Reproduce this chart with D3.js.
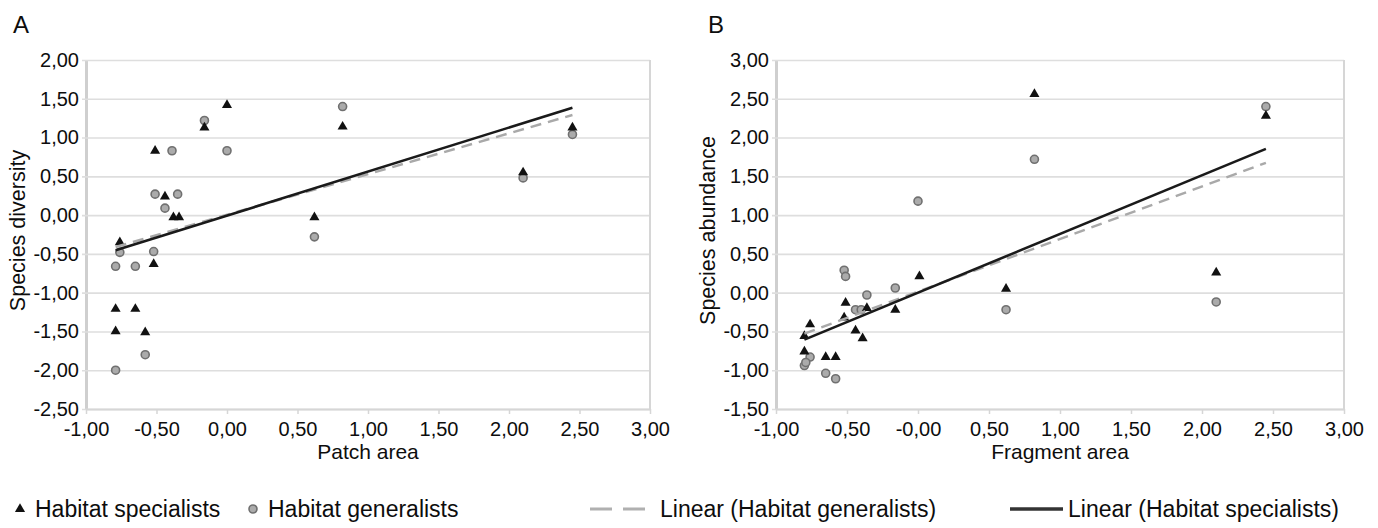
<!DOCTYPE html>
<html>
<head>
<meta charset="utf-8">
<script src="https://cdn.jsdelivr.net/npm/d3@7"></script>
<style>
  body { margin: 0; background: #fff; }
  text { font-family: "Liberation Sans", Arial, Helvetica, sans-serif; fill: #0d0d0d; }
</style>
</head>
<body>
<svg id="chart" width="1378" height="528"></svg>
<script>
// A: patch area vs species diversity
const specA_x = [0.00, -0.16, -0.51, -0.44, -0.38, -0.34, 0.62, -0.76, -0.52, -0.79, -0.65, -0.79, -0.58, 0.82, 2.10, 2.45];
const specA_y = [1.42, 1.13, 0.83, 0.24, -0.03, -0.03, -0.03, -0.35, -0.63, -1.21, -1.21, -1.50, -1.51, 1.14, 0.55, 1.13];
const genA_x = [-0.16, -0.39, 0.00, -0.51, -0.35, -0.44, 0.62, -0.76, -0.52, -0.79, -0.65, -0.58, -0.79, 0.82, 2.10, 2.45];
const genA_y = [1.22, 0.83, 0.83, 0.27, 0.27, 0.09, -0.28, -0.48, -0.47, -0.66, -0.66, -1.80, -2.00, 1.40, 0.48, 1.04];

// B: fragment area vs species abundance
const specB_x = [-0.76, -0.80, -0.80, -0.65, -0.58, -0.51, -0.52, -0.44, -0.39, -0.36, -0.16, 0.01, 0.62, 0.82, 2.10, 2.45];
const specB_y = [-0.41, -0.56, -0.76, -0.83, -0.83, -0.13, -0.32, -0.49, -0.59, -0.20, -0.22, 0.21, 0.05, 2.56, 0.26, 2.28];
const genB_x = [-0.76, -0.80, -0.79, -0.65, -0.58, -0.52, -0.51, -0.44, -0.40, -0.36, -0.16, 0.00, 0.62, 0.82, 2.10, 2.45];
const genB_y = [-0.83, -0.94, -0.90, -1.04, -1.11, 0.29, 0.21, -0.22, -0.22, -0.03, 0.06, 1.18, -0.22, 1.72, -0.12, 2.40];

const xTicks = [-1, -0.5, 0, 0.5, 1, 1.5, 2, 2.5, 3];
const xLabelsA = ["-1,00", "-0,50", "0,00", "0,50", "1,00", "1,50", "2,00", "2,50", "3,00"];
const xLabelsB = ["-1,00", "-0,50", "-0,00", "0,50", "1,00", "1,50", "2,00", "2,50", "3,00"];
const yTicksA = [-2.5, -2, -1.5, -1, -0.5, 0, 0.5, 1, 1.5, 2];
const yLabelsA = ["-2,50", "-2,00", "-1,50", "-1,00", "-0,50", "0,00", "0,50", "1,00", "1,50", "2,00"];
const yTicksB = [-1.5, -1, -0.5, 0, 0.5, 1, 1.5, 2, 2.5, 3];
const yLabelsB = ["-1,50", "-1,00", "-0,50", "0,00", "0,50", "1,00", "1,50", "2,00", "2,50", "3,00"];

const svg = d3.select("#chart");
svg.append("rect").attr("width", 1378).attr("height", 528).attr("fill", "#fff");

// least squares fit
function fit(xs, ys) {
  const mx = d3.mean(xs), my = d3.mean(ys);
  let sxy = 0, sxx = 0;
  xs.forEach((x, i) => { sxy += (x - mx) * (ys[i] - my); sxx += (x - mx) * (x - mx); });
  const b = sxy / sxx;
  return { b: b, a: my - b * mx };
}

function panel(p) {
  const w = p.right - p.left;
  const x = d3.scaleLinear().domain([-1, 3]).range([p.left, p.right]);
  const y = d3.scaleLinear().domain(p.yDomain).range([p.bottom, p.top]);

  // y axis + gridlines
  const ga = svg.append("g")
    .attr("transform", `translate(${p.left},0)`)
    .call(d3.axisLeft(y).tickValues(p.yTicks).tickFormat((d, i) => p.yLabels[i])
      .tickSize(-w).tickSizeOuter(0).tickPadding(7));
  ga.select(".domain").attr("stroke", "#cfcfcf").attr("stroke-width", 3);
  ga.selectAll(".tick line").attr("x1", -4).attr("stroke", "#dedede").attr("stroke-width", 1.6);
  ga.selectAll(".tick text").style("font-size", "20px").attr("fill", "#0d0d0d");

  // x axis
  const gx = svg.append("g")
    .attr("transform", `translate(0,${p.bottom})`)
    .call(d3.axisBottom(x).tickValues(xTicks).tickFormat((d, i) => p.xLabels[i])
      .tickSize(5).tickSizeOuter(0).tickPadding(8));
  gx.select(".domain").attr("stroke", "#d6d6d6").attr("stroke-width", 2);
  gx.selectAll(".tick line").attr("stroke", "#d6d6d6").attr("stroke-width", 1.5);
  gx.selectAll(".tick text").style("font-size", "20px").attr("fill", "#0d0d0d");

  // right border
  svg.append("line")
    .attr("x1", p.right).attr("x2", p.right).attr("y1", p.top).attr("y2", p.bottom)
    .attr("stroke", "#d6d6d6").attr("stroke-width", 2);

  // generalists
  svg.append("g").selectAll("circle")
    .data(p.genX.map((d, i) => ({ x: d, y: p.genY[i] })))
    .join("circle")
    .attr("cx", d => x(d.x)).attr("cy", d => y(d.y)).attr("r", 4)
    .attr("fill", "#ababab").attr("stroke", "#707070").attr("stroke-width", 1.6);

  // specialists
  const tri = d3.symbol(d3.symbolTriangle).size(44);
  svg.append("g").selectAll("path")
    .data(p.specX.map((d, i) => ({ x: d, y: p.specY[i] })))
    .join("path")
    .attr("d", tri)
    .attr("transform", d => `translate(${x(d.x)},${y(d.y)})`)
    .attr("fill", "#111");

  // trend lines
  const fg = fit(p.genX, p.genY), fs = fit(p.specX, p.specY);
  const gx0 = d3.min(p.genX), gx1 = d3.max(p.genX);
  const sx0 = d3.min(p.specX), sx1 = d3.max(p.specX);
  svg.append("line")
    .attr("x1", x(gx0)).attr("y1", y(fg.a + fg.b * gx0))
    .attr("x2", x(gx1)).attr("y2", y(fg.a + fg.b * gx1))
    .attr("stroke", "#a9a9a9").attr("stroke-width", 2.5).attr("stroke-dasharray", "11,7");
  svg.append("line")
    .attr("x1", x(sx0)).attr("y1", y(fs.a + fs.b * sx0))
    .attr("x2", x(sx1)).attr("y2", y(fs.a + fs.b * sx1))
    .attr("stroke", "#1a1a1a").attr("stroke-width", 2.6);

  // titles
  svg.append("text")
    .attr("x", (p.left + p.right) / 2).attr("y", p.bottom + 50)
    .attr("text-anchor", "middle").style("font-size", "21px")
    .text(p.xTitle);
  svg.append("text")
    .attr("transform", `translate(${p.left - 61},${(p.top + p.bottom) / 2 - 4}) rotate(-90)`)
    .attr("text-anchor", "middle").style("font-size", "21.5px")
    .text(p.yTitle);
  svg.append("text")
    .attr("x", p.letterX).attr("y", 33)
    .style("font-size", "24px")
    .text(p.letter);
}

panel({
  left: 86, right: 650, top: 60, bottom: 409,
  yDomain: [-2.5, 2], yTicks: yTicksA, yLabels: yLabelsA, xLabels: xLabelsA,
  specX: specA_x, specY: specA_y, genX: genA_x, genY: genA_y,
  xTitle: "Patch area", yTitle: "Species diversity", letter: "A", letterX: 13
});

panel({
  left: 776, right: 1344, top: 60, bottom: 409,
  yDomain: [-1.5, 3], yTicks: yTicksB, yLabels: yLabelsB, xLabels: xLabelsB,
  specX: specB_x, specY: specB_y, genX: genB_x, genY: genB_y,
  xTitle: "Fragment area", yTitle: "Species abundance", letter: "B", letterX: 708
});

// legend
const legY = 509;
const legFont = "23px";
const leg = svg.append("g");
leg.append("path")
  .attr("d", d3.symbol(d3.symbolTriangle).size(44))
  .attr("transform", `translate(20,${legY})`).attr("fill", "#111");
leg.append("text").attr("x", 35).attr("y", legY + 8).style("font-size", legFont).text("Habitat specialists");
leg.append("circle")
  .attr("cx", 253).attr("cy", legY).attr("r", 4)
  .attr("fill", "#ababab").attr("stroke", "#707070").attr("stroke-width", 1.6);
leg.append("text").attr("x", 268).attr("y", legY + 8).style("font-size", legFont).text("Habitat generalists");
leg.append("line")
  .attr("x1", 590).attr("x2", 645).attr("y1", legY).attr("y2", legY)
  .attr("stroke", "#b0b0b0").attr("stroke-width", 3).attr("stroke-dasharray", "22,11");
leg.append("text").attr("x", 660).attr("y", legY + 8).style("font-size", legFont).text("Linear (Habitat generalists)");
leg.append("line")
  .attr("x1", 1010).attr("x2", 1063).attr("y1", legY).attr("y2", legY)
  .attr("stroke", "#333").attr("stroke-width", 3.5);
leg.append("text").attr("x", 1068).attr("y", legY + 8).style("font-size", legFont).text("Linear (Habitat specialists)");
</script>
</body>
</html>
